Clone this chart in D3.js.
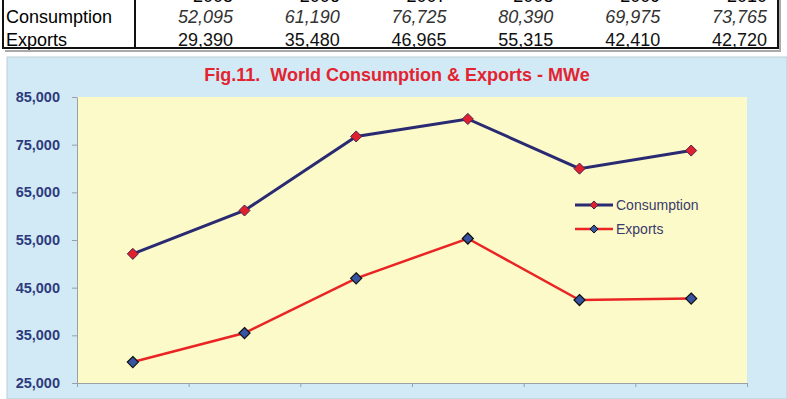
<!DOCTYPE html>
<html>
<head>
<meta charset="utf-8">
<script src="https://cdn.jsdelivr.net/npm/d3@7"></script>
<style>
  body { margin: 0; background: #fff; }
  svg { display: block; font-family: "Liberation Sans", Arial, sans-serif; }
</style>
</head>
<body>
<script>
// data
var years = ["2005", "2006", "2007", "2008", "2009", "2010"];
var consumption = [52095, 61190, 76725, 80390, 69975, 73765];
var exportsMWe = [29390, 35480, 46965, 55315, 42410, 42720];
var yTicks = [25000, 35000, 45000, 55000, 65000, 75000, 85000];
var seriesNames = ["Consumption", "Exports"];

var W = 787, H = 399;
var fmt = d3.format(",");

var svg = d3.select("body").append("svg")
    .attr("width", W)
    .attr("height", H);

// ---- table on top (header row is cut off in the original) ----
var colX = d3.scaleLinear().domain([0, years.length - 1]).range([233, 767]);

var tbl = svg.append("g").attr("class", "table");
// shadow
tbl.append("path")
    .attr("d", "M780,0V51H5")
    .attr("fill", "none").attr("stroke", "#aaa").attr("stroke-width", 2);
tbl.append("rect")
    .attr("x", 3).attr("y", -10).attr("width", 775).attr("height", 58)
    .attr("fill", "#fff").attr("stroke", "#111").attr("stroke-width", 2);
tbl.append("line")
    .attr("x1", 135).attr("x2", 135).attr("y1", -10).attr("y2", 48)
    .attr("stroke", "#111").attr("stroke-width", 2);

tbl.selectAll(".yr").data(years).enter().append("text")
    .attr("x", function(d, i) { return colX(i); })
    .attr("y", 2)
    .attr("text-anchor", "end")
    .style("font-size", "18px")
    .text(function(d) { return d; });

tbl.append("text").attr("x", 6).attr("y", 23).style("font-size", "18px").text(seriesNames[0]);
tbl.append("text").attr("x", 6).attr("y", 46).style("font-size", "18px").text(seriesNames[1]);

tbl.selectAll(".cv").data(consumption).enter().append("text")
    .attr("x", function(d, i) { return colX(i); })
    .attr("y", 23)
    .attr("text-anchor", "end")
    .style("font-size", "18px")
    .style("font-style", "italic")
    .attr("fill", "#333")
    .text(function(d) { return fmt(d); });

tbl.selectAll(".ev").data(exportsMWe).enter().append("text")
    .attr("x", function(d, i) { return colX(i); })
    .attr("y", 46)
    .attr("text-anchor", "end")
    .style("font-size", "18px")
    .attr("fill", "#111")
    .text(function(d) { return fmt(d); });

// ---- chart area ----
svg.append("rect")
    .attr("x", 7).attr("y", 57).attr("width", W - 7).attr("height", H - 57)
    .attr("fill", "#d2eaf6").attr("stroke", "#b9cfd8").attr("stroke-width", 1);

svg.append("text")
    .attr("x", 397).attr("y", 81)
    .attr("text-anchor", "middle")
    .attr("fill", "#e3232f")
    .style("font-size", "18px")
    .style("font-weight", "bold")
    .style("white-space", "pre")
    .text("Fig.11.  World Consumption & Exports - MWe");

var plot = {left: 77, right: 747, top: 97, bottom: 383};

var x = d3.scaleBand().domain(years).range([plot.left, plot.right]);
var xEdge = d3.scaleLinear().domain([0, years.length]).range([plot.left, plot.right]);
var y = d3.scaleLinear().domain([25000, 85000]).range([plot.bottom, plot.top]);

svg.append("rect")
    .attr("x", plot.left).attr("y", plot.top)
    .attr("width", plot.right - plot.left).attr("height", plot.bottom - plot.top)
    .attr("fill", "#fdfac9");

// y axis
var yAxis = svg.append("g")
    .attr("transform", "translate(" + plot.left + ",0)")
    .call(d3.axisLeft(y).tickValues(yTicks).tickFormat(fmt).tickSize(5).tickSizeOuter(0));
yAxis.select(".domain").attr("stroke", "#9aa0a6");
yAxis.selectAll(".tick line").attr("stroke", "#9aa0a6");
yAxis.selectAll("text")
    .attr("x", -17)
    .attr("fill", "#2e3a7c")
    .style("font-size", "14.5px")
    .style("font-weight", "bold")
    .style("font-family", "'Liberation Sans', Arial, sans-serif");

// x axis (ticks at category boundaries, no labels visible)
var xAxis = svg.append("g")
    .attr("transform", "translate(0," + plot.bottom + ")")
    .call(d3.axisBottom(xEdge).tickValues(d3.range(years.length + 1)).tickFormat("").tickSize(4).tickSizeOuter(0));
xAxis.select(".domain").attr("stroke", "#9aa0a6");
xAxis.selectAll(".tick line").attr("stroke", "#9aa0a6");

var cx = function(d, i) { return x(years[i]) + x.bandwidth() / 2; };

var line = d3.line()
    .x(cx)
    .y(function(d) { return y(d); });

var diamond = d3.symbol().type(d3.symbolDiamond2).size(78);

// consumption
svg.append("path")
    .datum(consumption)
    .attr("d", line)
    .attr("fill", "none")
    .attr("stroke", "#2a2a72")
    .attr("stroke-width", 3);
svg.selectAll(".cm").data(consumption).enter().append("path")
    .attr("d", diamond)
    .attr("transform", function(d, i) { return "translate(" + cx(d, i) + "," + y(d) + ")"; })
    .attr("fill", "#e0202e")
    .attr("stroke", "#4a2450")
    .attr("stroke-width", 1);

// exports
svg.append("path")
    .datum(exportsMWe)
    .attr("d", line)
    .attr("fill", "none")
    .attr("stroke", "#ea2424")
    .attr("stroke-width", 2.5);
svg.selectAll(".em").data(exportsMWe).enter().append("path")
    .attr("d", diamond)
    .attr("transform", function(d, i) { return "translate(" + cx(d, i) + "," + y(d) + ")"; })
    .attr("fill", "#3654a2")
    .attr("stroke", "#111")
    .attr("stroke-width", 1.2);

// legend
var legend = svg.append("g").attr("transform", "translate(575,205)");
var legItems = [
  {name: seriesNames[0], line: "#2a2a72", fill: "#e0202e", stroke: "#4a2450", w: 3},
  {name: seriesNames[1], line: "#ea2424", fill: "#3654a2", stroke: "#111", w: 2.5}
];
var li = legend.selectAll(".li").data(legItems).enter().append("g")
    .attr("transform", function(d, i) { return "translate(0," + i * 24 + ")"; });
li.append("line")
    .attr("x1", 0).attr("x2", 38)
    .attr("stroke", function(d) { return d.line; })
    .attr("stroke-width", function(d) { return d.w; });
li.append("path")
    .attr("d", d3.symbol().type(d3.symbolDiamond2).size(42))
    .attr("transform", "translate(19,0)")
    .attr("fill", function(d) { return d.fill; })
    .attr("stroke", function(d) { return d.stroke; });
li.append("text")
    .attr("x", 41).attr("y", 5)
    .attr("fill", "#3a3a6c")
    .style("font-size", "14px")
    .text(function(d) { return d.name; });
</script>
</body>
</html>
